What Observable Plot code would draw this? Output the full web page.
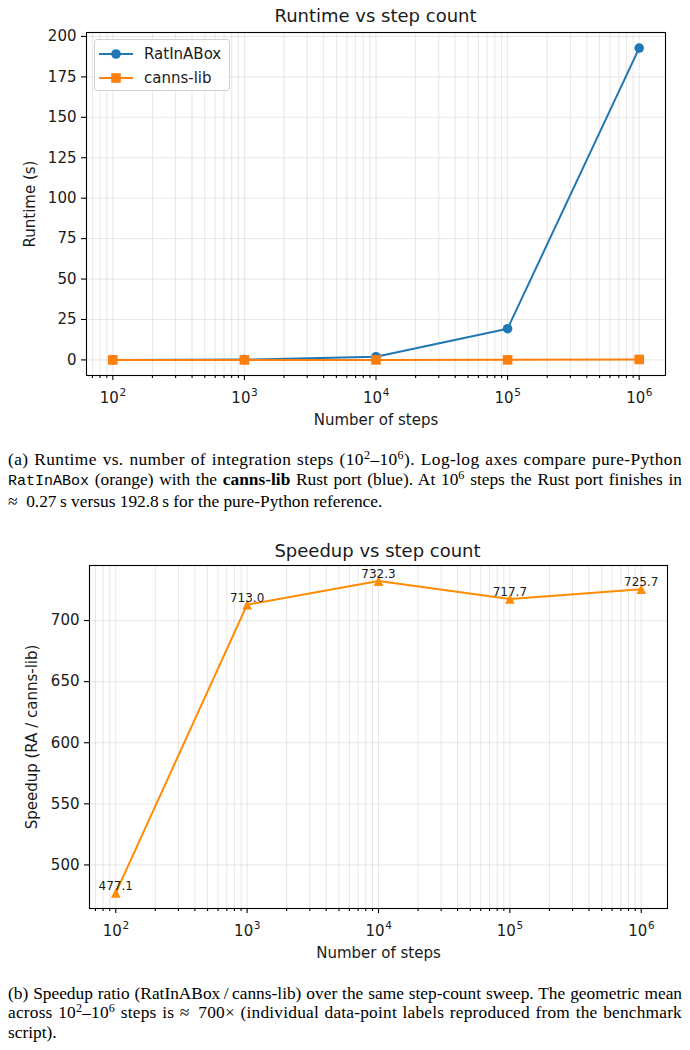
<!DOCTYPE html>
<html><head><meta charset="utf-8">
<script src="https://cdn.jsdelivr.net/npm/d3@7"></script>
<script src="https://cdn.jsdelivr.net/npm/@observablehq/plot@0.6"></script>
<style>
body{margin:0;background:#fff;}
#root{position:relative;width:690px;height:1050px;font-family:"DejaVu Sans",sans-serif;overflow:hidden;}
.title{position:absolute;font-size:18px;line-height:18px;color:#1a1a1a;white-space:nowrap;transform:translateX(-50%);}
.chart{position:absolute;left:0;}
.chart svg{overflow:visible;}
.legend{position:absolute;left:94px;top:39px;width:136px;height:52px;box-sizing:border-box;border:1px solid #d0d0d0;border-radius:3px;background:rgba(255,255,255,0.85);font-size:15px;color:#1a1a1a;}
.legend .row{position:absolute;left:0;height:20px;width:100%;}
.legend svg{position:absolute;left:2px;top:0;}
.legend span{position:absolute;left:49px;top:0;line-height:20px;}
.cap{position:absolute;left:8px;width:674px;font-family:"Liberation Serif","Times New Roman",serif;font-size:17px;line-height:19.8px;color:#000;}
.cap .j{text-align:justify;text-align-last:justify;white-space:nowrap;}
.cap .l{text-align:left;white-space:nowrap;}
.cap sup{font-size:0.7em;line-height:0;vertical-align:0.5em;}
.cap code{font-family:"Liberation Mono","DejaVu Sans Mono",monospace;font-size:15px;letter-spacing:0 !important;}
</style></head>
<body><div id="root">
<div class="title" style="left:375.5px;top:7px">Runtime vs step count</div>
<div class="chart" id="c1" style="top:0px"></div>
<div class="legend">
  <div class="row" style="top:4px"><svg width="44" height="20"><line x1="2" x2="36" y1="10" y2="10" stroke="#1f77b4" stroke-width="2"/><circle cx="19" cy="10" r="4.8" fill="#1f77b4"/></svg><span>RatInABox</span></div>
  <div class="row" style="top:28px"><svg width="44" height="20"><line x1="2" x2="36" y1="10" y2="10" stroke="#ff7f0e" stroke-width="2"/><rect x="14.2" y="5.2" width="9.6" height="9.6" fill="#ff7f0e"/></svg><span>canns-lib</span></div>
</div>
<div class="cap" style="top:450px">
  <div class="j">(a) Runtime vs. number of integration steps (10<sup>2</sup>–10<sup>6</sup>). Log-log axes compare pure-Python</div>
  <div class="j"><code>RatInABox</code> (orange) with the <b>canns-lib</b> Rust port (blue). At 10<sup>6</sup> steps the Rust port finishes in</div>
  <div class="l">≈&#8194;0.27&#8201;s versus 192.8&#8201;s for the pure-Python reference.</div>
</div>
<div class="title" style="left:377.5px;top:541.5px">Speedup vs step count</div>
<div class="chart" id="c2" style="top:530px"></div>
<div class="cap" style="top:983.5px">
  <div class="j" id="fitline">(b) Speedup ratio (RatInABox&#8201;/&#8201;canns-lib) over the same step-count sweep. The geometric mean</div>
  <div class="j">across 10<sup>2</sup>–10<sup>6</sup> steps is ≈&#8194;700× (individual data-point labels reproduced from the benchmark</div>
  <div class="l">script).</div>
</div>
</div>
<script>
// ---- data ----
const steps = [1e2, 1e3, 1e4, 1e5, 1e6];
const ratinaboxRuntime = [0.02, 0.19, 1.95, 19.3, 192.8];
const cannsRuntime = [0.00004, 0.00027, 0.0027, 0.027, 0.27];
const speedup = [477.1, 713.0, 732.3, 717.7, 725.7];
const xTicks = [1e2, 1e3, 1e4, 1e5, 1e6];
const xTickBase = "10";
const xTickExponents = ["2", "3", "4", "5", "6"];
const yTicksRuntime = [0, 25, 50, 75, 100, 125, 150, 175, 200];
const yTicksSpeedup = [500, 550, 600, 650, 700];

// ---- caption fitting: size the serif text, then let each justified line fill the column naturally ----
(function fitCaptions() {
  function natural(el, fs, ls) {
    const probe = document.createElement("span");
    probe.innerHTML = el.innerHTML;
    probe.style.cssText = "position:absolute;visibility:hidden;white-space:nowrap;font-family:'Liberation Serif','Times New Roman',serif;font-size:" + fs + "px;letter-spacing:" + ls + "px;";
    document.body.appendChild(probe);
    const w = probe.getBoundingClientRect().width;
    probe.remove();
    return w;
  }
  const src = document.getElementById("fitline");
  let fs = 16 * 668 / natural(src, 16, 0);
  fs = Math.max(15, Math.min(19, fs));
  document.querySelectorAll(".cap").forEach(el => el.style.fontSize = fs + "px");
  document.querySelectorAll(".cap .j").forEach(el => {
    const w = natural(el, fs, 0);
    const n = el.textContent.trim().length;
    const ls = Math.max(0, Math.min(0.8, (664 - w) / n));
    el.style.letterSpacing = ls + "px";
  });
})();

// ---- helpers ----
const xDomain = [10 ** 1.8, 10 ** 6.2];
const minorTicks = [];
for (let e = 1; e <= 6; e++) for (let k = 2; k <= 9; k++) {
  const v = k * 10 ** e;
  if (v >= xDomain[0] && v <= xDomain[1]) minorTicks.push(v);
}
const idx = d3.range(steps.length);
const tickIdx = d3.range(xTicks.length);
const gridStyle = {stroke: "#b0b0b0", strokeOpacity: 0.3, strokeWidth: 1};
const axisStroke = {strokeWidth: 1.1, stroke: "#000"};
const mplTriangle = {draw(ctx, size) { const r = Math.sqrt(size / Math.PI); ctx.moveTo(0, -r); ctx.lineTo(r, r); ctx.lineTo(-r, r); ctx.closePath(); }};
const mplSquare = {draw(ctx, size) { const r = Math.sqrt(size / Math.PI); ctx.rect(-r, -r, 2 * r, 2 * r); }};
const baseStyle = {fontFamily: "DejaVu Sans", fontSize: "15px", color: "#1a1a1a", background: "transparent", overflow: "visible"};

function padDomain(vals) {
  const lo = d3.min(vals), hi = d3.max(vals), p = (hi - lo) * 0.05;
  return [lo - p, hi + p];
}

function xAxisMarks() {
  return [
    Plot.gridX([...minorTicks, ...xTicks], gridStyle),
    Plot.axisX(minorTicks, {tickSize: 3, tickFormat: () => "", label: null, ...axisStroke}),
    Plot.axisX(xTicks, {tickSize: 5, tickFormat: () => "", ...axisStroke,
      label: "Number of steps", labelAnchor: "center", labelArrow: "none", labelOffset: 49}),
    Plot.text(tickIdx, {x: i => xTicks[i], text: () => xTickBase, frameAnchor: "bottom", lineAnchor: "bottom", dy: 27, dx: -3.5, fontSize: 15, fill: "#1a1a1a"}),
    Plot.text(tickIdx, {x: i => xTicks[i], text: i => xTickExponents[i], frameAnchor: "bottom", lineAnchor: "bottom", dy: 20, dx: 10, fontSize: 10.5, fill: "#1a1a1a"})
  ];
}

// ---- chart 1 ----
const c1 = Plot.plot({
  width: 690, height: 430,
  marginLeft: 86, marginRight: 25, marginTop: 32, marginBottom: 55,
  style: baseStyle,
  x: {type: "log", domain: xDomain},
  y: {domain: padDomain([...ratinaboxRuntime, ...cannsRuntime])},
  marks: [
    Plot.gridY(yTicksRuntime, gridStyle),
    ...xAxisMarks(),
    Plot.axisY(yTicksRuntime, {tickSize: 5, tickPadding: 5, ...axisStroke,
      label: "Runtime (s)", labelAnchor: "center", labelArrow: "none", labelOffset: 62}),
    Plot.line(idx, {x: i => steps[i], y: i => ratinaboxRuntime[i], stroke: "#1f77b4", strokeWidth: 2}),
    Plot.dot(idx, {x: i => steps[i], y: i => ratinaboxRuntime[i], r: 4.8, fill: "#1f77b4", symbol: "circle"}),
    Plot.line(idx, {x: i => steps[i], y: i => cannsRuntime[i], stroke: "#ff7f0e", strokeWidth: 2}),
    Plot.dot(idx, {x: i => steps[i], y: i => cannsRuntime[i], r: 4.8, fill: "#ff7f0e", symbol: mplSquare}),
    Plot.frame({stroke: "#000", strokeWidth: 1.1})
  ]
});
document.getElementById("c1").append(c1);

// ---- chart 2 ----
const c2 = Plot.plot({
  width: 690, height: 440,
  marginLeft: 89, marginRight: 23, marginTop: 35, marginBottom: 62,
  style: baseStyle,
  x: {type: "log", domain: xDomain},
  y: {domain: padDomain(speedup)},
  marks: [
    Plot.gridY(yTicksSpeedup, gridStyle),
    ...xAxisMarks(),
    Plot.axisY(yTicksSpeedup, {tickSize: 5, tickPadding: 5, ...axisStroke,
      label: "Speedup (RA / canns-lib)", labelAnchor: "center", labelArrow: "none", labelOffset: 63}),
    Plot.line(idx, {x: i => steps[i], y: i => speedup[i], stroke: "#ff8c00", strokeWidth: 2}),
    Plot.dot(idx, {x: i => steps[i], y: i => speedup[i], r: 4.8, fill: "#ff8c00", symbol: mplTriangle}),
    Plot.text(idx, {x: i => steps[i], y: i => speedup[i], text: i => speedup[i].toFixed(1), dy: -3, lineAnchor: "bottom", fontSize: 12, fill: "#1a1a1a"}),
    Plot.frame({stroke: "#000", strokeWidth: 1.1})
  ]
});
document.getElementById("c2").append(c2);
</script>
</body></html>
